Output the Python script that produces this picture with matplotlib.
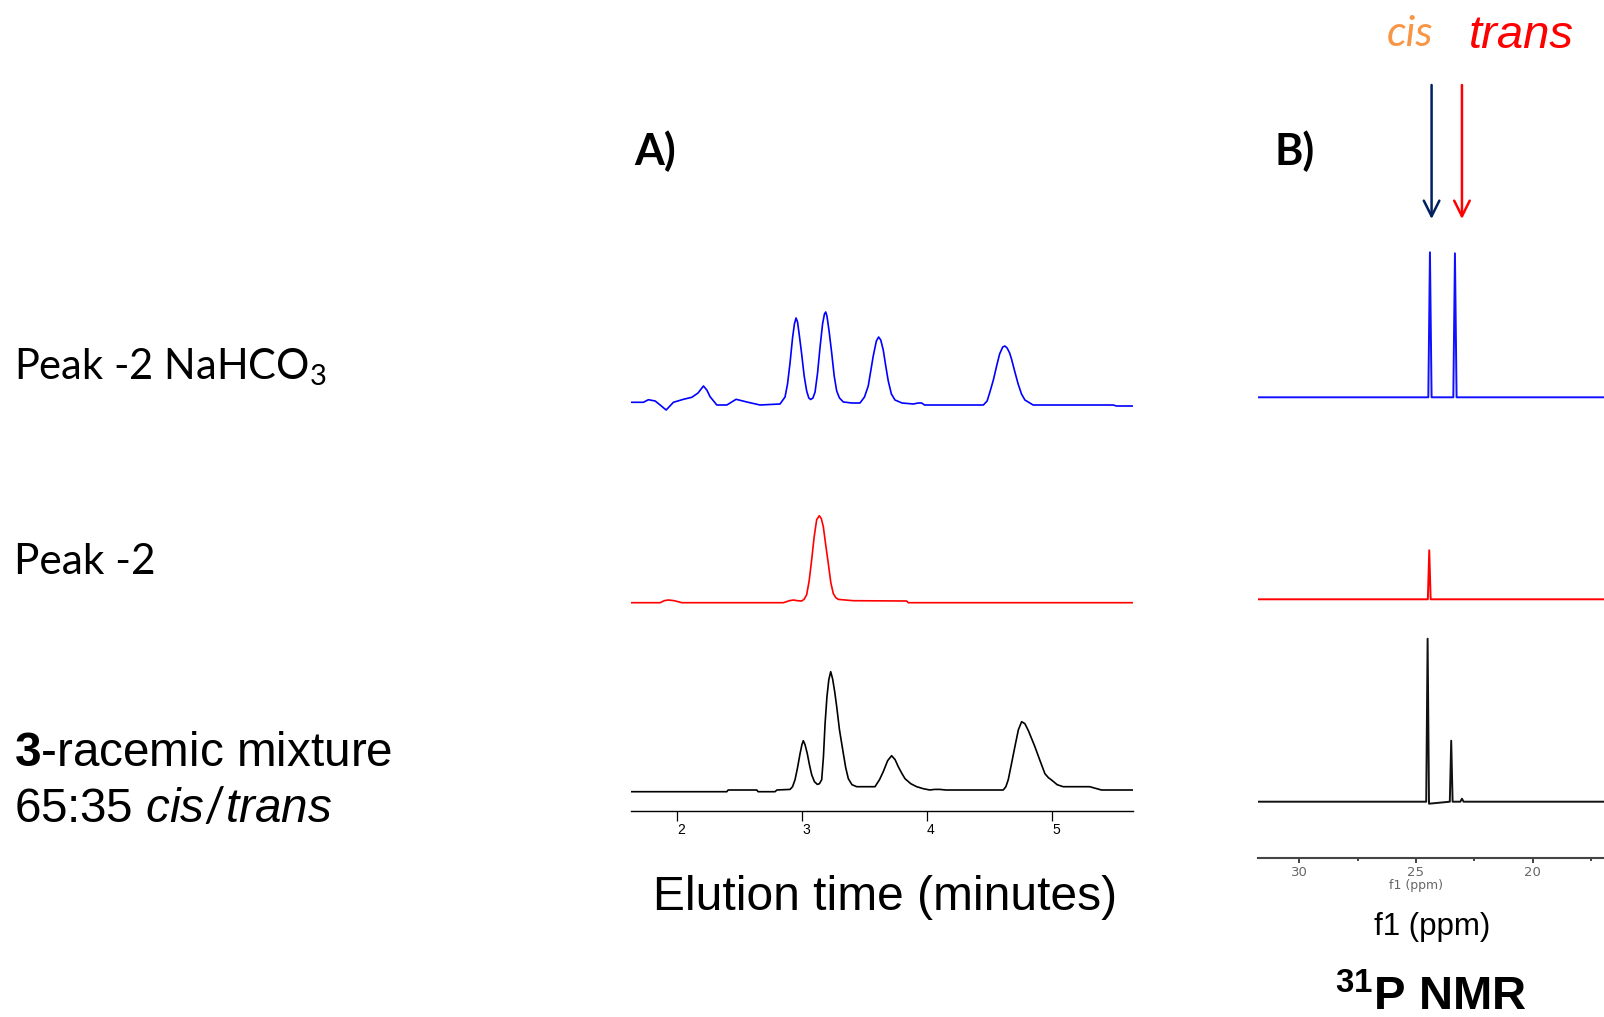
"""
Chiral HPLC traces (A) next to 31P NMR spectra (B) for the three samples.
"""

import matplotlib
matplotlib.use("Agg")
import matplotlib.pyplot as plt

# =============================================================================
# DATA
# =============================================================================

# -- A) HPLC, elution time (min) vs detector signal --------------------------
blue_t = [1.635, 1.733, 1.773, 1.827, 1.867, 1.915, 1.973, 2.053, 2.12, 2.17,
          2.213, 2.24, 2.266, 2.32, 2.40, 2.474, 2.56, 2.665, 2.825, 2.865,
          2.885, 2.905, 2.925, 2.94, 2.953, 2.965, 2.98, 2.998, 3.018, 3.038,
          3.055, 3.07, 3.088, 3.105, 3.125, 3.145, 3.165, 3.18, 3.19, 3.20,
          3.218, 3.238, 3.258, 3.278, 3.30, 3.331, 3.40, 3.464, 3.50, 3.53,
          3.55, 3.57, 3.595, 3.613, 3.63, 3.65, 3.67, 3.69, 3.715, 3.744,
          3.80, 3.89, 3.93, 3.957, 3.98, 4.05, 4.45, 4.48, 4.50, 4.53,
          4.556, 4.58, 4.605, 4.622, 4.64, 4.66, 4.675, 4.70, 4.728, 4.755,
          4.782, 4.848, 5.487, 5.514, 5.647]
blue_s = [3.7, 3.7, 6.3, 5.0, 1.0, -4.0, 3.7, 6.7, 8.7, 13.0,
          20.0, 16.0, 9.3, 1.0, 1.0, 6.7, 4.0, 1.0, 2.0, 9.0,
          22.0, 43.0, 68.0, 82.0, 88.0, 84.0, 70.0, 52.0, 30.0, 15.0,
          8.0, 6.5, 8.0, 14.0, 33.0, 59.0, 82.0, 92.0, 94.0, 90.0,
          74.0, 53.0, 30.0, 15.0, 8.0, 4.0, 3.0, 3.0, 9.0, 20.0,
          35.0, 50.0, 65.0, 69.0, 66.0, 56.0, 40.0, 25.0, 12.0, 6.0,
          3.0, 2.0, 3.0, 3.0, 1.0, 1.0, 1.0, 5.0, 13.0, 26.0,
          40.0, 52.0, 59.0, 60.0, 58.0, 53.0, 47.0, 35.0, 22.0, 12.0,
          6.0, 1.0, 1.0, 0.0, 0.0]

red_t = [1.635, 1.867, 1.90, 1.933, 1.98, 2.04, 2.852, 2.90, 2.932, 2.965,
         2.998, 3.018, 3.038, 3.058, 3.078, 3.098, 3.118, 3.139, 3.155, 3.171,
         3.19, 3.211, 3.231, 3.251, 3.271, 3.291, 3.411, 3.837, 3.85, 5.647]
red_s = [0.0, 0.0, 2.0, 2.7, 2.0, 0.0, 0.0, 2.0, 2.7, 2.0,
         1.7, 3.5, 8.0, 22.0, 43.0, 66.0, 83.0, 87.0, 84.0, 76.0,
         58.0, 39.0, 20.0, 9.0, 5.0, 3.3, 2.0, 1.7, 0.0, 0.0]

black_t = [1.635, 2.40, 2.41, 2.639, 2.65, 2.785, 2.80, 2.905, 2.925, 2.945,
           2.965, 2.985, 3.00, 3.011, 3.025, 3.043, 3.06, 3.078, 3.10, 3.123,
           3.14, 3.158, 3.172, 3.185, 3.20, 3.215, 3.23, 3.245, 3.262, 3.278,
           3.30, 3.326, 3.35, 3.371, 3.40, 3.438, 3.584, 3.62, 3.65, 3.685,
           3.717, 3.745, 3.77, 3.80, 3.824, 3.87, 3.917, 3.97, 4.023, 4.06,
           4.103, 4.15, 4.263, 4.609, 4.63, 4.649, 4.675, 4.702, 4.73, 4.756,
           4.782, 4.81, 4.836, 4.862, 4.90, 4.942, 4.97, 4.995, 5.04, 5.088,
           5.30, 5.394, 5.647]
black_s = [0.0, 0.0, 1.7, 1.7, 0.0, 0.0, 1.7, 2.3, 5.0, 12.0,
           24.0, 38.0, 47.0, 51.0, 47.0, 38.0, 27.0, 17.0, 10.0, 7.3,
           8.0, 12.0, 35.0, 68.0, 95.0, 112.0, 120.0, 113.0, 100.0, 85.0,
           62.0, 42.0, 24.0, 13.0, 7.0, 5.0, 5.0, 12.0, 20.0, 31.0,
           36.0, 32.0, 25.0, 18.0, 13.0, 8.0, 5.0, 3.0, 1.7, 2.3,
           2.3, 1.7, 1.7, 1.7, 5.0, 12.0, 28.0, 45.0, 62.0, 70.0,
           68.0, 61.0, 53.0, 45.0, 32.0, 18.0, 14.0, 11.7, 7.0, 5.0,
           5.0, 1.7, 1.7]

hplc_ticks = [2, 3, 4, 5]

# -- B) 31P NMR, chemical shift (ppm) vs intensity ---------------------------
nmr_blue_ppm = [31.76, 24.47, 24.40, 24.33, 23.40, 23.33, 23.26, 16.95]
nmr_blue_int = [0.0, 0.0, 145.0, 0.0, 0.0, 144.0, 0.0, 0.0]

nmr_red_ppm = [31.76, 24.49, 24.43, 24.37, 16.95]
nmr_red_int = [0.0, 0.0, 49.0, 0.0, 0.0]

nmr_black_ppm = [31.76, 24.56, 24.50, 24.44, 23.55, 23.49, 23.43,
                 23.10, 23.03, 22.96, 16.95]
nmr_black_int = [0.0, 0.0, 163.0, -2.0, 0.0, 61.0, 0.0,
                 0.0, 3.0, 0.0, 0.0]

nmr_major = [30, 25, 20]
nmr_minor = [27.5, 22.5, 17.5]

# cis / trans arrow positions (ppm)
cis_ppm, trans_ppm = 24.33, 23.03

# =============================================================================
# LAYOUT
# =============================================================================

W, H = 1604, 1017
plt.rcParams["mathtext.fontset"] = "custom"
plt.rcParams["mathtext.rm"] = "Lato"
plt.rcParams["mathtext.bf"] = "Liberation Sans:bold"
plt.rcParams["mathtext.it"] = "Liberation Sans:italic"

fig = plt.figure(figsize=(W / 100, H / 100), dpi=100)
fig.patch.set_facecolor("white")


def fx(x):
    return x / W


def fy(y):
    return 1 - y / H


# ── A) HPLC panel ─────────────────────────────────────────────────────
ax_a = fig.add_axes([fx(631), fy(811), (1133 - 631) / W, (811 - 290) / H])
off_blue, off_red, off_black = 405, 208.3, 19.3

ax_a.plot(blue_t, [s + off_blue for s in blue_s], color="#0000FF", lw=1.2)
ax_a.plot(red_t, [s + off_red for s in red_s], color="#FF0000", lw=1.2)
ax_a.plot(black_t, [s + off_black for s in black_s], color="black", lw=1.2)

ax_a.set_xlim(1.634, 5.646)
ax_a.set_ylim(0, 521)
for side in ("top", "right", "left"):
    ax_a.spines[side].set_visible(False)
ax_a.spines["bottom"].set_linewidth(1.0)
ax_a.set_yticks([])
ax_a.set_xticks(hplc_ticks)
ax_a.set_xticklabels([str(t) for t in hplc_ticks], fontsize=10,
                     family="Liberation Sans")
ax_a.tick_params(axis="x", direction="out", length=7, width=0.9, pad=1.5)
for lab in ax_a.get_xticklabels():
    lab.set_ha("left")
ax_a.patch.set_alpha(0)

# ── B) NMR panel ──────────────────────────────────────────────────────
ax_b = fig.add_axes([fx(1258), fy(858.3), (W - 1258) / W, (858.3 - 240) / H])
n_blue, n_red, n_black = 461, 259, 56.6

ax_b.plot(nmr_blue_ppm, [s + n_blue for s in nmr_blue_int], color="#1010FF", lw=1.4)
ax_b.plot(nmr_red_ppm, [s + n_red for s in nmr_red_int], color="#FF0000", lw=1.4)
ax_b.plot(nmr_black_ppm, [s + n_black for s in nmr_black_int], color="#111111", lw=1.4)

ax_b.set_xlim(31.76, 16.95)
ax_b.set_ylim(0, 618.3)
for side in ("top", "right", "left"):
    ax_b.spines[side].set_visible(False)
ax_b.spines["bottom"].set_linewidth(1.5)
ax_b.spines["bottom"].set_color("#444444")
ax_b.set_yticks([])
ax_b.set_xticks(nmr_major)
ax_b.set_xticks(nmr_minor, minor=True)
ax_b.set_xticklabels([str(t) for t in nmr_major], fontsize=9.5, color="#666666",
                     family="DejaVu Sans")
ax_b.tick_params(axis="x", which="major", direction="out", length=3.5,
                 width=1.4, color="#444444", pad=2)
ax_b.tick_params(axis="x", which="minor", direction="out", length=2,
                 width=1.4, color="#444444")
ax_b.patch.set_alpha(0)
ax_b.text(25, -0.044, "f1 (ppm)", transform=ax_b.get_xaxis_transform(),
          ha="center", va="center", fontsize=9, color="#666666")

# cis / trans arrows above the NMR peaks
for ppm, col in ((cis_ppm, "#002060"), (trans_ppm, "#FF0000")):
    ax_b.annotate("", xy=(ppm, 858.3 - 219), xytext=(ppm, 858.3 - 85),
                  xycoords="data", textcoords="data", annotation_clip=False,
                  arrowprops=dict(arrowstyle="->", color=col, lw=1.8,
                                  mutation_scale=28, shrinkA=0, shrinkB=0))

# =============================================================================
# TEXT
# =============================================================================

fig.text(fx(1410), fy(34), "cis", color="#F79646", fontsize=31,
         family="Lato", style="italic", ha="center", va="center")
fig.text(fx(1521), fy(36), "trans", color="#FF0000", fontsize=34,
         family="Liberation Sans", style="italic", ha="center", va="center")

fig.text(fx(634), fy(151), "A)", fontsize=31, family="Lato",
         weight="bold", ha="left", va="center")
fig.text(fx(1275), fy(151), "B)", fontsize=31, family="Lato",
         weight="bold", ha="left", va="center")

fig.text(fx(14), fy(367), "Peak -2 NaHCO$_3$", fontsize=30, family="Lato",
         ha="left", va="center")
fig.text(fx(14), fy(562), "Peak -2", fontsize=30.5, family="Lato",
         ha="left", va="center")
fig.text(fx(14), fy(753), r"$\mathbf{3}$-racemic mixture", fontsize=34.3,
         family="Liberation Sans", ha="left", va="center")
fig.text(fx(14), fy(809), r"65:35 $cis/trans$", fontsize=34.3,
         family="Liberation Sans", ha="left", va="center")

fig.text(fx(885), fy(897), "Elution time (minutes)", fontsize=34.5,
         family="Liberation Sans", ha="center", va="center")
fig.text(fx(1432), fy(927), "f1 (ppm)", fontsize=22.5,
         family="Liberation Sans", ha="center", va="center")
fig.text(fx(1431), fy(1010), r"$^{\mathbf{31}}$P NMR", fontsize=34,
         family="Liberation Sans", weight="bold", ha="center", va="baseline")

fig.savefig("out.png", dpi=100, facecolor="white")
